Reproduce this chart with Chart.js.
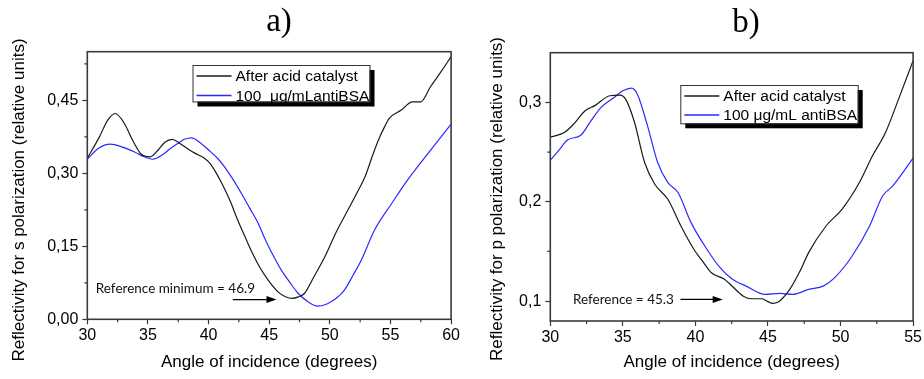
<!DOCTYPE html>
<html>
<head>
<meta charset="utf-8">
<script src="https://cdn.jsdelivr.net/npm/chart.js@4/dist/chart.umd.min.js"></script>
<style>
  html, body { margin: 0; padding: 0; background: #fff; }
  #wrap { position: relative; width: 924px; height: 379px; background: #fff; overflow: hidden; }
  canvas { position: absolute; top: 0; }
</style>
</head>
<body>
<div id="wrap">
  <canvas id="panelA" width="462" height="379" style="left:0"></canvas>
  <canvas id="panelB" width="462" height="379" style="left:462px"></canvas>
</div>
<script>
// ---- Panel a) : s polarization ----
const angleS_acid = [30.0, 31.0, 31.7, 32.3, 33.0, 33.8, 34.5, 35.2, 35.8, 36.4, 37.0, 37.6, 38.3, 38.9, 39.6, 40.1, 40.6, 41.1, 41.8, 42.4, 43.0, 43.5, 44.2, 44.9, 45.7, 46.3, 46.9, 47.4, 47.9, 48.7, 49.6, 50.5, 51.5, 52.2, 52.9, 53.5, 54.0, 54.5, 54.9, 55.9, 56.8, 57.5, 58.3, 59.2, 60.0];
const reflS_acid  = [0.331, 0.375, 0.410, 0.423, 0.405, 0.365, 0.338, 0.334, 0.347, 0.364, 0.370, 0.362, 0.350, 0.341, 0.332, 0.321, 0.302, 0.279, 0.242, 0.204, 0.170, 0.142, 0.108, 0.081, 0.057, 0.047, 0.043, 0.046, 0.053, 0.088, 0.129, 0.178, 0.225, 0.258, 0.293, 0.335, 0.368, 0.395, 0.413, 0.430, 0.447, 0.447, 0.478, 0.510, 0.540];

const angleS_anti = [30.0, 30.9, 31.9, 32.9, 33.9, 34.7, 35.4, 36.2, 36.8, 37.5, 38.0, 38.6, 39.3, 40.0, 40.7, 41.3, 42.0, 42.7, 43.4, 44.1, 44.6, 45.0, 46.0, 46.7, 47.4, 48.2, 49.0, 49.6, 50.1, 50.7, 51.2, 51.9, 52.6, 53.7, 55.1, 56.4, 58.1, 60.0];
const reflS_anti  = [0.329, 0.351, 0.360, 0.354, 0.344, 0.334, 0.329, 0.338, 0.350, 0.362, 0.370, 0.373, 0.363, 0.348, 0.332, 0.314, 0.288, 0.259, 0.228, 0.197, 0.168, 0.147, 0.101, 0.076, 0.053, 0.036, 0.027, 0.030, 0.036, 0.047, 0.060, 0.090, 0.122, 0.184, 0.238, 0.286, 0.341, 0.401];

const xTicksA = [30, 35, 40, 45, 50, 55, 60];
const yTicksA = [0.00, 0.15, 0.30, 0.45];

// ---- Panel b) : p polarization ----
const angleP_acid = [30.0, 31.0, 31.6, 32.4, 33.1, 34.1, 34.8, 35.2, 35.8, 36.5, 37.2, 38.1, 39.0, 39.9, 40.5, 41.1, 42.0, 42.5, 43.3, 43.9, 44.6, 45.0, 45.3, 45.7, 46.5, 47.2, 47.8, 49.0, 50.1, 51.3, 52.2, 53.1, 54.0, 55.0];
const reflP_acid  = [0.265, 0.270, 0.278, 0.2915, 0.297, 0.3067, 0.3073, 0.303, 0.280, 0.2395, 0.2176, 0.2025, 0.1756, 0.152, 0.140, 0.1286, 0.122, 0.1155, 0.105, 0.1024, 0.1024, 0.0995, 0.0977, 0.0990, 0.1118, 0.130, 0.1488, 0.1756, 0.1924, 0.2193, 0.2462, 0.2698, 0.3033, 0.342];

const angleP_anti = [30.0, 30.6, 31.2, 32.1, 32.8, 33.5, 34.4, 35.0, 35.6, 36.0, 36.7, 37.4, 38.1, 38.8, 39.7, 40.8, 41.7, 42.5, 43.5, 44.8, 45.8, 46.7, 47.8, 48.8, 49.7, 50.8, 52.0, 52.9, 53.6, 55.0];
const reflP_anti  = [0.2418, 0.252, 0.2623, 0.267, 0.2814, 0.295, 0.305, 0.3117, 0.3144, 0.3083, 0.2764, 0.2395, 0.2193, 0.2093, 0.179, 0.152, 0.1337, 0.1226, 0.1151, 0.1068, 0.1078, 0.1068, 0.1118, 0.1151, 0.1252, 0.1454, 0.1756, 0.2058, 0.216, 0.244];

const xTicksB = [30, 35, 40, 45, 50, 55];
const yTicksB = [0.1, 0.2, 0.3];

const AXIS_COLOR = '#3a3a3a';
const SANS = 'Arial, "Liberation Sans", sans-serif';

function toPoints(xs, ys) {
  return xs.map((x, i) => ({ x: x, y: ys[i] }));
}

// Frame, minor ticks, panel label, rotated y title, legend box and annotation
const panelDecor = {
  id: 'panelDecor',
  afterDraw(chart, args, opts) {
    const ctx = chart.ctx;
    const area = chart.chartArea;
    const xs = chart.scales.x, ys = chart.scales.y;
    ctx.save();

    // plot frame
    ctx.strokeStyle = AXIS_COLOR;
    ctx.lineWidth = 1.6;
    ctx.strokeRect(area.left, area.top, area.right - area.left, area.bottom - area.top);

    // minor ticks halfway between the labelled ones
    ctx.lineWidth = 1.2;
    ctx.beginPath();
    const xt = opts.xTicks, yt = opts.yTicks;
    for (let i = 0; i < xt.length - 1; i++) {
      const px = xs.getPixelForValue((xt[i] + xt[i + 1]) / 2);
      ctx.moveTo(px, area.bottom);
      ctx.lineTo(px, area.bottom + 3);
    }
    const yMinor = [];
    for (let i = 0; i < yt.length - 1; i++) yMinor.push((yt[i] + yt[i + 1]) / 2);
    yMinor.push(yt[yt.length - 1] + (yt[1] - yt[0]) / 2);
    yMinor.push(yt[0] - (yt[1] - yt[0]) / 2);
    yMinor.forEach(v => {
      if (v <= ys.min || v >= ys.max) return;
      const py = ys.getPixelForValue(v);
      ctx.moveTo(area.left, py);
      ctx.lineTo(area.left - 3, py);
    });
    ctx.stroke();

    // panel label
    ctx.fillStyle = '#000';
    ctx.font = '33px "Liberation Serif", "Times New Roman", serif';
    ctx.textAlign = 'center';
    ctx.textBaseline = 'middle';
    ctx.fillText(opts.panel, opts.panelX, opts.panelY);

    // y-axis title
    ctx.save();
    ctx.translate(opts.yTitleX, opts.yTitleY);
    ctx.rotate(-Math.PI / 2);
    ctx.font = '17px ' + SANS;
    ctx.fillText(opts.yTitle, 0, 0);
    ctx.restore();

    // legend box with drop shadow
    const L = opts.legend;
    ctx.fillStyle = '#000';
    ctx.fillRect(L.x + 5, L.y + 5, L.w, L.h);
    ctx.fillStyle = '#fff';
    ctx.fillRect(L.x, L.y, L.w, L.h);
    ctx.strokeStyle = '#333';
    ctx.lineWidth = 1;
    ctx.strokeRect(L.x + 0.5, L.y + 0.5, L.w, L.h);
    ctx.font = '15.5px ' + SANS;
    ctx.textAlign = 'left';
    ctx.textBaseline = 'middle';
    chart.data.datasets.forEach((ds, i) => {
      const ry = L.y + L.row0 + i * L.rowGap;
      ctx.strokeStyle = ds.borderColor;
      ctx.lineWidth = 1.3;
      ctx.beginPath();
      ctx.moveTo(L.x + 4, ry);
      ctx.lineTo(L.x + 39, ry);
      ctx.stroke();
      ctx.fillStyle = '#000';
      ctx.fillText(ds.label, L.x + 43, ry + 1);
    });

    // reference annotation with arrow (data coordinates)
    const A = opts.note;
    ctx.fillStyle = '#111';
    ctx.font = '13.5px Lato, "Open Sans", sans-serif';
    ctx.textAlign = 'left';
    ctx.fillText(A.text, xs.getPixelForValue(A.textX), ys.getPixelForValue(A.textY));
    const ax0 = xs.getPixelForValue(A.arrowFrom);
    const ax1 = xs.getPixelForValue(A.arrowTo);
    const ay = ys.getPixelForValue(A.arrowY);
    ctx.strokeStyle = '#000';
    ctx.lineWidth = 1.3;
    ctx.beginPath();
    ctx.moveTo(ax0, ay);
    ctx.lineTo(ax1 - 8, ay);
    ctx.stroke();
    ctx.fillStyle = '#000';
    ctx.beginPath();
    ctx.moveTo(ax1, ay);
    ctx.lineTo(ax1 - 10, ay - 3.5);
    ctx.lineTo(ax1 - 10, ay + 3.5);
    ctx.closePath();
    ctx.fill();

    ctx.restore();
  }
};

function makeChart(canvasId, cfg) {
  return new Chart(document.getElementById(canvasId), {
    type: 'line',
    data: {
      datasets: [
        {
          label: cfg.labels[0],
          data: toPoints(cfg.acid[0], cfg.acid[1]),
          borderColor: '#1a1a1a',
          borderWidth: 1.2,
          pointRadius: 0,
          cubicInterpolationMode: 'monotone',
          fill: false
        },
        {
          label: cfg.labels[1],
          data: toPoints(cfg.anti[0], cfg.anti[1]),
          borderColor: '#2a2aff',
          borderWidth: 1.2,
          pointRadius: 0,
          cubicInterpolationMode: 'monotone',
          fill: false
        }
      ]
    },
    options: {
      responsive: false,
      animation: false,
      events: [],
      layout: { padding: { left: 0, top: cfg.padTop, right: cfg.padRight, bottom: 0 } },
      plugins: {
        legend: { display: false },
        tooltip: { enabled: false },
        title: { display: false },
        panelDecor: cfg.decor
      },
      scales: {
        x: {
          type: 'linear',
          min: cfg.xMin,
          max: cfg.xMax,
          afterBuildTicks: s => { s.ticks = cfg.xTicks.map(v => ({ value: v })); },
          afterFit: s => { s.height = cfg.xHeight; },
          ticks: {
            color: '#000',
            font: { size: 16, family: SANS },
            padding: 2,
            maxRotation: 0,
            autoSkip: false,
            callback: v => String(v)
          },
          grid: { drawOnChartArea: false, drawTicks: true, tickLength: 5, tickColor: AXIS_COLOR, tickWidth: 1.2 },
          border: { display: false },
          title: {
            display: true,
            text: 'Angle of incidence (degrees)',
            color: '#000',
            font: { size: 17, family: SANS },
            padding: { top: 0, bottom: 6 }
          }
        },
        y: {
          type: 'linear',
          min: cfg.yMin,
          max: cfg.yMax,
          afterBuildTicks: s => { s.ticks = cfg.yTicks.map(v => ({ value: v })); },
          afterFit: s => { s.width = cfg.yWidth; },
          ticks: {
            color: '#000',
            font: { size: 16, family: SANS },
            padding: 4,
            autoSkip: false,
            callback: v => Number(v).toFixed(cfg.yDecimals).replace('.', ',')
          },
          grid: { drawOnChartArea: false, drawTicks: true, tickLength: 5, tickColor: AXIS_COLOR, tickWidth: 1.2 },
          border: { display: false },
          title: { display: false }
        }
      }
    },
    plugins: [panelDecor]
  });
}

makeChart('panelA', {
  labels: ['After acid catalyst', '100  \u03bcg/mLantiBSA'],
  acid: [angleS_acid, reflS_acid],
  anti: [angleS_anti, reflS_anti],
  xMin: 30, xMax: 60, yMin: 0, yMax: 0.55,
  xTicks: xTicksA, yTicks: yTicksA, yDecimals: 2,
  padTop: 51.7, padRight: 10.3, yWidth: 87.3, xHeight: 59.7,
  decor: {
    xTicks: xTicksA, yTicks: yTicksA,
    panel: 'a)', panelX: 279, panelY: 22,
    yTitle: 'Reflectivity for s polarization (relative units)', yTitleX: 19, yTitleY: 200,
    legend: { x: 192.5, y: 65, w: 177, h: 36.5, row0: 11, rowGap: 19.5 },
    note: { text: 'Reference minimum = 46.9', textX: 30.7, textY: 0.063, arrowFrom: 42.0, arrowTo: 45.6, arrowY: 0.0405 }
  }
});

makeChart('panelB', {
  labels: ['After acid catalyst', '100 \u03bcg/mL antiBSA'],
  acid: [angleP_acid, reflP_acid],
  anti: [angleP_anti, reflP_anti],
  xMin: 30, xMax: 55, yMin: 0.08, yMax: 0.35,
  xTicks: xTicksB, yTicks: yTicksB, yDecimals: 1,
  padTop: 52.7, padRight: 9.7, yWidth: 88.3, xHeight: 58,
  decor: {
    xTicks: xTicksB, yTicks: yTicksB,
    panel: 'b)', panelX: 284, panelY: 23,
    yTitle: 'Reflectivity for p polarization (relative units)', yTitleX: 35, yTitleY: 199,
    legend: { x: 218.3, y: 85, w: 177.4, h: 38.3, row0: 11, rowGap: 19 },
    note: { text: 'Reference = 45.3', textX: 31.56, textY: 0.101, arrowFrom: 38.97, arrowTo: 41.88, arrowY: 0.1017 }
  }
});
</script>
</body>
</html>
